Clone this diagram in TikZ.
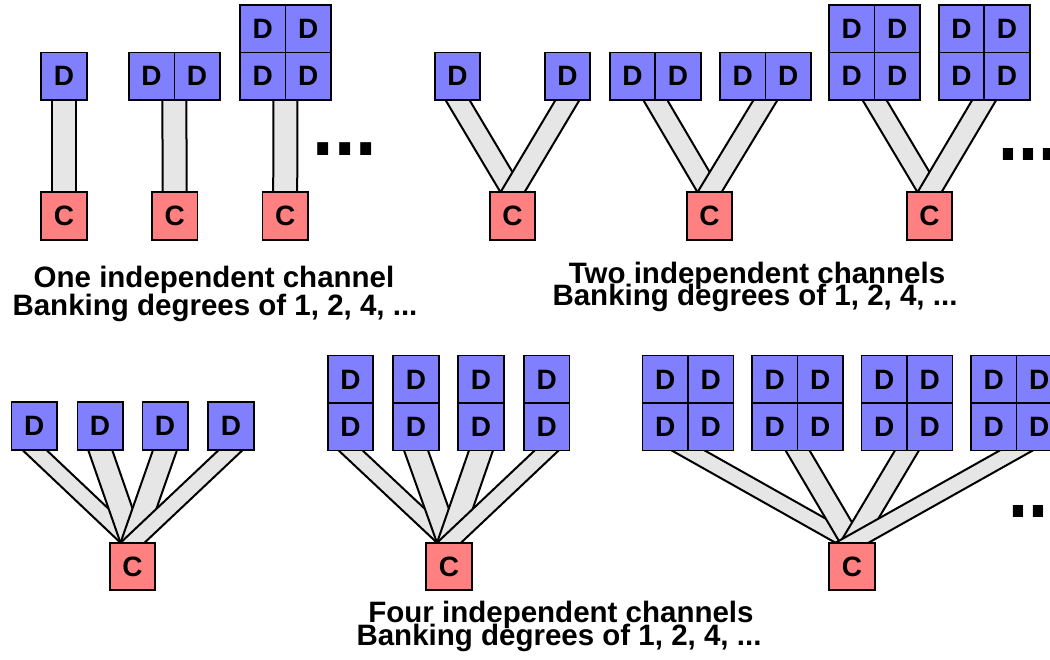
\documentclass[tikz,border=0pt]{standalone}
\usepackage{fontspec}
\usepackage{graphicx}
\setmainfont{Liberation Sans}
\usetikzlibrary{calc}
\pgfdeclarelayer{bg}
\pgfsetlayers{bg,main}
\definecolor{dblue}{RGB}{128,128,255}
\definecolor{cred}{RGB}{255,128,128}
\definecolor{sgray}{RGB}{230,230,230}
\newcommand\bankstrip[3]{%
  \fill[sgray] ($(#1)+(-#3,0)$) -- ($(#1)+(#3,0)$) -- ($(#2)+(#3,0)$) -- ($(#2)+(-#3,0)$) -- cycle;
  \draw[stripline] ($(#1)+(-#3,0)$) -- ($(#2)+(-#3,0)$) ($(#1)+(#3,0)$) -- ($(#2)+(#3,0)$);
}
\tikzset{
  dbox/.style={draw=black, line width=1.6pt, fill=dblue, minimum width=45.5pt, minimum height=47.5pt,
    inner sep=0pt, outer sep=0pt, font=\bfseries\fontsize{28}{28}\selectfont},
  cbox/.style={dbox, fill=cred},
  stripline/.style={line width=2pt, black},
  lbl/.style={anchor=base, inner sep=0pt, font=\bfseries\fontsize{29.5}{29.5}\selectfont},
  dots/.style={anchor=base west, inner sep=0pt, font=\bfseries\fontsize{77}{77}\selectfont},
}
\begin{document}
\begin{tikzpicture}[x=1pt,y=-1pt]
\useasboundingbox (0,0) rectangle (1050,659);
\clip (0,0) rectangle (1050,659);
% ---------- row 1, one channel ----------
\node[dbox] (a1) at (64,76.25) {D};
\node[cbox] (ca) at (64,216) {C};
\node[dbox] (b1) at (151.6,76.25) {D};
\node[dbox] (b2) at (197.1,76.25) {D};
\node[cbox] (cb) at (174.7,216) {C};
\node[dbox] (g1) at (262.75,28.75) {D};
\node[dbox] (g2) at (308.25,28.75) {D};
\node[dbox] (g3) at (262.75,76.25) {D};
\node[dbox] (g4) at (308.25,76.25) {D};
\node[cbox] (cg) at (285.2,216) {C};
\node[dots] (e1) at (312.7,155) {\scalebox{1}[1.12]{...}};
% ---------- row 1, two channels ----------
\node[dbox] (y1a) at (457.5,76.25) {D};
\node[dbox] (y1b) at (567.5,76.25) {D};
\node[cbox] (cy1) at (512.5,216) {C};
\node[dbox] (y2a) at (632.5,76.25) {D};
\node[dbox] (y2b) at (678,76.25) {D};
\node[dbox] (y2c) at (742.75,76.25) {D};
\node[dbox] (y2d) at (788.25,76.25) {D};
\node[cbox] (cy2) at (709.5,216) {C};
\node[dbox] (y3a) at (851.75,28.75) {D};
\node[dbox] (y3b) at (897.25,28.75) {D};
\node[dbox] (y3c) at (851.75,76.25) {D};
\node[dbox] (y3d) at (897.25,76.25) {D};
\node[dbox] (y3e) at (961.5,28.75) {D};
\node[dbox] (y3f) at (1007,28.75) {D};
\node[dbox] (y3g) at (961.5,76.25) {D};
\node[dbox] (y3h) at (1007,76.25) {D};
\node[cbox] (cy3) at (929.5,216) {C};
\node[dots, font=\bfseries\fontsize{72}{72}\selectfont] (e2) at (998,160.7) {\scalebox{1}[1.12]{...}};
% ---------- row 2, four channels ----------
\node[dbox] (f1) at (34.2,426) {D};
\node[dbox] (f2) at (100.1,426) {D};
\node[dbox] (f3) at (165.1,426) {D};
\node[dbox] (f4) at (231,426) {D};
\node[cbox] (cf) at (132.5,566.5) {C};
\foreach \i/\x in {1/350.5,2/416,3/481,4/546.8}{
  \node[dbox] (m\i t) at (\x,379.4) {D};
  \node[dbox] (m\i) at (\x,426.6) {D};
}
\node[cbox] (cm) at (449,566.5) {C};
\foreach \i/\x in {1/688,2/797.5,3/907,4/1016.5}{
  \node[dbox] (r\i a) at (\x-22.75,379.4) {D};
  \node[dbox] (r\i b) at (\x+22.75,379.4) {D};
  \node[dbox] (r\i c) at (\x-22.75,426.6) {D};
  \node[dbox] (r\i d) at (\x+22.75,426.6) {D};
}
\node[cbox] (cr) at (852,566.5) {C};
\node[dots, font=\bfseries\fontsize{72}{72}\selectfont] (e3) at (1008,517.3) {\scalebox{1}[1.12]{...}};
% ---------- labels ----------
\node[lbl] (t1a) at (214,287) {One independent channel};
\node[lbl] (t1b) at (215,315) {Banking degrees of 1, 2, 4, ...};
\node[lbl] (t2a) at (757,283) {Two independent channels};
\node[lbl] (t2b) at (755,305) {Banking degrees of 1, 2, 4, ...};
\node[lbl] (t3a) at (561,622) {Four independent channels};
\node[lbl] (t3b) at (559,645) {Banking degrees of 1, 2, 4, ...};
% ---------- strips ----------
\begin{pgfonlayer}{bg}
\bankstrip{a1.south}{ca.north}{12}
\bankstrip{b1.south east}{cb.north}{12}
\bankstrip{g3.south east}{cg.north}{12}
\bankstrip{y1a.south}{cy1.north}{12}
\bankstrip{y1b.south}{cy1.north}{12}
\bankstrip{y2a.south east}{cy2.north}{12}
\bankstrip{y2c.south east}{cy2.north}{12}
\bankstrip{y3c.south east}{cy3.north}{12}
\bankstrip{y3g.south east}{cy3.north}{12}
\bankstrip{f1.south}{cf.north}{12}
\bankstrip{f2.south}{cf.north}{12}
\bankstrip{f3.south}{cf.north}{12}
\bankstrip{f4.south}{cf.north}{12}
\bankstrip{m1.south}{cm.north}{12}
\bankstrip{m2.south}{cm.north}{12}
\bankstrip{m3.south}{cm.north}{12}
\bankstrip{m4.south}{cm.north}{12}
\bankstrip{r1c.south east}{cr.north}{16.5}
\bankstrip{r2c.south east}{cr.north}{12}
\bankstrip{r3c.south east}{cr.north}{12}
\bankstrip{r4c.south east}{cr.north}{16.5}
\end{pgfonlayer}
\end{tikzpicture}
\end{document}
